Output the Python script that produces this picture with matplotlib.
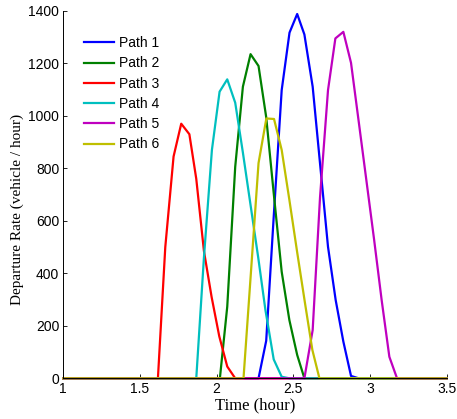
import matplotlib
matplotlib.use('Agg')
import matplotlib.pyplot as plt

# departure rate (time in hours, rate in vehicle/hour)
t1 = [1.0, 2.273, 2.323, 2.372, 2.424, 2.475, 2.525, 2.572, 2.626, 2.676, 2.726, 2.776, 2.826, 2.876, 2.926, 3.5]
r1 = [0, 0, 143, 616, 1098, 1317, 1388, 1310, 1111, 806, 501, 298, 140, 9, 0, 0]

t2 = [1.0, 2.021, 2.069, 2.121, 2.171, 2.221, 2.273, 2.323, 2.372, 2.424, 2.474, 2.525, 2.572, 3.5]
r2 = [0, 0, 273, 806, 1111, 1235, 1190, 995, 705, 406, 222, 89, 0, 0]

t3 = [1.0, 1.617, 1.665, 1.719, 1.769, 1.822, 1.867, 1.917, 1.967, 2.017, 2.069, 2.121, 3.5]
r3 = [0, 0, 500, 845, 970, 930, 760, 485, 310, 160, 45, 0, 0]

t4 = [1.0, 1.867, 1.917, 1.969, 2.019, 2.069, 2.121, 2.171, 2.221, 2.271, 2.318, 2.372, 2.424, 2.474, 3.5]
r4 = [0, 0, 460, 870, 1092, 1139, 1050, 860, 660, 460, 260, 72, 6, 0, 0]

t5 = [1.0, 2.572, 2.626, 2.674, 2.726, 2.774, 2.826, 2.876, 2.926, 2.976, 3.026, 3.076, 3.126, 3.176, 3.5]
r5 = [0, 0, 184, 690, 1098, 1295, 1320, 1202, 979, 755, 531, 297, 82, 0, 0]

t6 = [1.0, 2.175, 2.223, 2.273, 2.324, 2.374, 2.424, 2.474, 2.525, 2.575, 2.624, 2.670, 3.5]
r6 = [0, 0, 400, 820, 990, 988, 870, 680, 480, 290, 108, 0, 0]

labels = ['Path 1', 'Path 2', 'Path 3', 'Path 4', 'Path 5', 'Path 6']
colors = ['#0000ff', '#008000', '#ff0000', '#00bfbf', '#bf00bf', '#bfbf00']

xticks = [1, 1.5, 2, 2.5, 3, 3.5]
xticklabels = ['1', '1.5', '2', '2.5', '3', '3.5']
yticks = [0, 200, 400, 600, 800, 1000, 1200, 1400]

fig = plt.figure(figsize=(4.57, 4.19), dpi=100)
ax = fig.add_axes([0.1385, 0.0971, 0.839, 0.877])

for t, r, lab, c in zip([t1, t2, t3, t4, t5, t6], [r1, r2, r3, r4, r5, r6], labels, colors):
    ax.plot(t, r, color=c, lw=1.6, label=lab, clip_on=False)

ax.set_xlim(1, 3.5)
ax.set_ylim(0, 1400)
ax.set_xticks(xticks)
ax.set_xticklabels(xticklabels)
ax.set_yticks(yticks)
ax.tick_params(direction='in', length=3, width=0.6, labelsize=10, pad=3)
for lbl in ax.get_xticklabels() + ax.get_yticklabels():
    lbl.set_family('Liberation Sans')
ax.spines['top'].set_visible(False)
ax.spines['right'].set_visible(False)
ax.spines['left'].set_linewidth(0.7)
ax.spines['bottom'].set_linewidth(0.7)

ax.set_xlabel('Time (hour)', family='Liberation Serif', fontsize=12, labelpad=1)
ax.set_ylabel('Departure Rate (vehicle / hour)', family='Liberation Serif', fontsize=11)
ax.yaxis.set_label_coords(-0.1025, 0.46)

leg = ax.legend(loc='upper left', bbox_to_anchor=(0.022, 0.965), frameon=False,
                prop={'family': 'Liberation Sans', 'size': 10},
                handlelength=2.15, handletextpad=0.35, labelspacing=0.45)

fig.savefig('out.png', dpi=100)
